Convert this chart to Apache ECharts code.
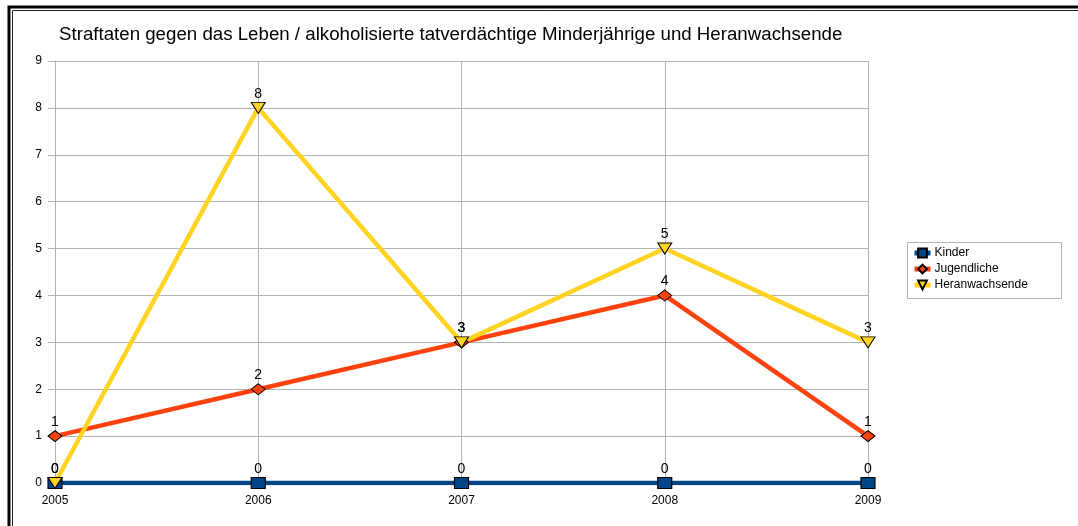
<!DOCTYPE html>
<html>
<head>
<meta charset="utf-8">
<script src="https://cdn.jsdelivr.net/npm/echarts@6/dist/echarts.min.js"></script>
<style>
  html, body { margin: 0; padding: 0; background: #fff; }
  #chart { width: 1078px; height: 526px; }
</style>
</head>
<body>
<div id="chart"></div>
<script>
// Jahre der Auswertung
const years = ['2005', '2006', '2007', '2008', '2009'];
// Alkoholisierte Tatverdächtige je Altersgruppe
const kinder = [0, 0, 0, 0, 0];
const jugendliche = [1, 2, 3, 4, 1];
const heranwachsende = [0, 8, 3, 5, 3];
// Werteachse
const yTicks = [0, 1, 2, 3, 4, 5, 6, 7, 8, 9];
// Reihennamen
const seriesNames = ['Kinder', 'Jugendliche', 'Heranwachsende'];

const FONT = 'Liberation Sans, Arial, sans-serif';
const GRID_GRAY = '#b3b3b3';

function lineSeries(name, data, color, symbol, rotate) {
  return {
    name: name,
    type: 'line',
    data: data,
    symbol: symbol,
    symbolSize: [14, 11],
    symbolRotate: rotate || 0,
    showAllSymbol: true,
    lineStyle: { color: color, width: 4.5 },
    itemStyle: { color: color, borderColor: '#000', borderWidth: 1 },
    label: {
      show: true,
      position: 'top',
      distance: 1,
      color: '#000',
      fontFamily: FONT,
      fontSize: 14
    },
    emphasis: { disabled: true },
    animation: false
  };
}

const chart = echarts.init(document.getElementById('chart'), null, { renderer: 'canvas' });
chart.setOption({
  backgroundColor: '#fff',
  animation: false,
  title: {
    text: 'Straftaten gegen das Leben / alkoholisierte tatverdächtige Minderjährige und Heranwachsende',
    left: 59,
    top: 25,
    padding: 0,
    textStyle: { fontFamily: FONT, fontSize: 18.7, fontWeight: 'normal', color: '#000' }
  },
  legend: {
    orient: 'vertical',
    left: 912,
    top: 247,
    padding: 0,
    itemWidth: 16,
    itemHeight: 11,
    itemGap: 4,
    lineStyle: { width: 5 },
    textStyle: { fontFamily: FONT, fontSize: 12, color: '#000', padding: [0, 0, 0, -1] },
    data: seriesNames.map(function (n) {
      return { name: n, lineStyle: { width: 5 } };
    })
  },
  grid: {
    left: 55,
    right: 210,
    top: 61,
    bottom: 43,
    containLabel: false,
    outerBoundsMode: 'none'
  },
  xAxis: {
    type: 'category',
    data: years,
    boundaryGap: false,
    axisLine: { lineStyle: { color: GRID_GRAY, width: 1 } },
    axisTick: { show: false },
    splitLine: { show: true, lineStyle: { color: GRID_GRAY, width: 1 } },
    axisLabel: { color: '#000', fontFamily: FONT, fontSize: 12, margin: 12 }
  },
  yAxis: {
    type: 'value',
    min: yTicks[0],
    max: yTicks[yTicks.length - 1],
    interval: 1,
    axisLine: { show: true, lineStyle: { color: GRID_GRAY, width: 1 } },
    axisTick: { show: true, length: 7, lineStyle: { color: GRID_GRAY } },
    splitLine: { show: true, lineStyle: { color: GRID_GRAY, width: 1 } },
    axisLabel: { color: '#000', fontFamily: FONT, fontSize: 12, margin: 13 }
  },
  graphic: [
    // doppelter Rahmen um das Diagramm
    { type: 'rect', silent: true, z: 100,
      shape: { x: 9, y: 7, width: 1200, height: 800 },
      style: { fill: 'none', stroke: '#000', lineWidth: 3 } },
    { type: 'rect', silent: true, z: 100,
      shape: { x: 12.5, y: 10.5, width: 1200, height: 800 },
      style: { fill: 'none', stroke: '#222', lineWidth: 1 } },
    // Legendenrahmen
    { type: 'rect', silent: true, z: 1,
      shape: { x: 907.5, y: 242.5, width: 154, height: 56 },
      style: { fill: 'none', stroke: GRID_GRAY, lineWidth: 1 } }
  ],
  series: [
    lineSeries(seriesNames[0], kinder, '#004586', 'rect'),
    lineSeries(seriesNames[1], jugendliche, '#ff420e', 'diamond'),
    lineSeries(seriesNames[2], heranwachsende, '#ffd320', 'triangle', 180)
  ]
});
</script>
</body>
</html>
